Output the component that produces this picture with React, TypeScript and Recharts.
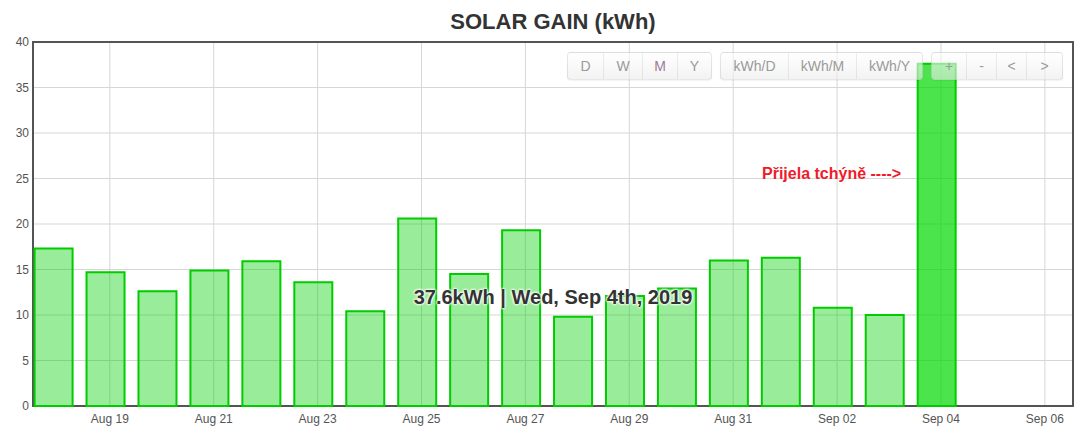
import React from "react";
import { BarChart, Bar, XAxis, YAxis, CartesianGrid, Cell, ReferenceArea } from "recharts";

// Daily solar gain (local midnight CEST, UTC+2)
const dates = [
  "2019-08-18", "2019-08-19", "2019-08-20", "2019-08-21", "2019-08-22", "2019-08-23",
  "2019-08-24", "2019-08-25", "2019-08-26", "2019-08-27", "2019-08-28", "2019-08-29",
  "2019-08-30", "2019-08-31", "2019-09-01", "2019-09-02", "2019-09-03", "2019-09-04",
];
const gainKWh = [
  17.3, 14.7, 12.6, 14.9, 15.9, 13.6,
  10.4, 20.6, 14.5, 19.3, 9.8, 12.1,
  12.9, 16.0, 16.3, 10.8, 10.0, 37.6,
];
const tickDates = [
  "2019-08-19", "2019-08-21", "2019-08-23", "2019-08-25", "2019-08-27",
  "2019-08-29", "2019-08-31", "2019-09-02", "2019-09-04", "2019-09-06",
];
const yTicks = [0, 5, 10, 15, 20, 25, 30, 35, 40];
const domainStart = "2019-08-17T12:30:00Z";
const domainEnd = "2019-09-06T13:00:00Z";
const highlightIndex = 17;
const annotationText = "Přijela tchýně ---->";
const periodButtons = ["D", "W", "M", "Y"];
const unitButtons = ["kWh/D", "kWh/M", "kWh/Y"];
const navButtons = ["+", "-", "<", ">"];

const MONTHS = ["Jan", "Feb", "Mar", "Apr", "May", "Jun", "Jul", "Aug", "Sep", "Oct", "Nov", "Dec"];
const WEEKDAYS = ["Sun", "Mon", "Tue", "Wed", "Thu", "Fri", "Sat"];

const data = dates.map((d, i) => ({ t: Date.parse(d + "T00:00:00+02:00"), v: gainKWh[i], d }));
const ticks = tickDates.map((d) => Date.parse(d + "T00:00:00Z"));
const xDomain = [Date.parse(domainStart), Date.parse(domainEnd)];

const fmtTick = (t: number) => {
  const dt = new Date(t);
  const day = dt.getUTCDate();
  return `${MONTHS[dt.getUTCMonth()]} ${day < 10 ? "0" + day : day}`;
};

const ordinal = (n: number) => {
  if (n % 10 === 1 && n !== 11) return n + "st";
  if (n % 10 === 2 && n !== 12) return n + "nd";
  if (n % 10 === 3 && n !== 13) return n + "rd";
  return n + "th";
};

const hl = data[highlightIndex];
const [hy, hm, hd] = hl.d.split("-").map(Number);
const hDate = new Date(Date.UTC(hy, hm - 1, hd));
const tooltipText = `${hl.v.toFixed(1)}kWh | ${WEEKDAYS[hDate.getUTCDay()]}, ${MONTHS[hm - 1]} ${ordinal(hd)}, ${hy}`;

const btnGroupStyle: React.CSSProperties = {
  position: "absolute",
  top: 44,
  height: 28,
  display: "flex",
  border: "1px solid rgba(0,0,0,0.09)",
  borderRadius: 4,
  background: "linear-gradient(rgba(255,255,255,0.6), rgba(235,235,235,0.6))",
  boxShadow: "0 1px 1px rgba(0,0,0,0.05)",
  boxSizing: "border-box",
};

const ButtonGroup = ({ labels, left, widths }: { labels: string[]; left: number; widths: number[] }) => (
  <div style={{ ...btnGroupStyle, left }}>
    {labels.map((l, i) => (
      <div
        key={l}
        style={{
          width: widths[i],
          lineHeight: "26px",
          textAlign: "center",
          fontSize: 14,
          color: l === "M" ? "#a07b96" : "#9a9a9a",
          borderLeft: i === 0 ? "none" : "1px solid rgba(0,0,0,0.07)",
          boxSizing: "border-box",
        }}
      >
        {l}
      </div>
    ))}
  </div>
);

export default function App() {
  return (
    <div style={{ position: "relative", width: 1072, height: 430, fontFamily: "'Liberation Sans', Arial, sans-serif" }}>
      <div
        style={{
          position: "absolute",
          left: 25,
          width: 1040,
          top: 2,
          lineHeight: "24px",
          textAlign: "center",
          fontSize: 22,
          fontWeight: "bold",
          color: "#333",
        }}
      >
        SOLAR GAIN (kWh)
      </div>
      <BarChart width={1072} height={430} data={data} margin={{ top: 34, right: 7, bottom: 2, left: 0 }}>
        <CartesianGrid stroke="#d6d6d6" />
        <XAxis
          dataKey="t"
          type="number"
          domain={xDomain}
          ticks={ticks}
          allowDataOverflow
          tickFormatter={fmtTick}
          axisLine={false}
          tickLine={false}
          tickSize={0}
          tickMargin={8}
          height={30}
          tick={{ fontSize: 12, fill: "#545454" }}
        />
        <YAxis
          domain={[0, 40]}
          ticks={yTicks}
          axisLine={false}
          tickLine={false}
          tickSize={0}
          tickMargin={4}
          width={25}
          tick={{ fontSize: 12, fill: "#545454" }}
        />
        <Bar dataKey="v" barSize={38} stroke="#00cc00" strokeWidth={2} isAnimationActive={false}>
          {data.map((_, i) => (
            <Cell
              key={i}
              fill={i === highlightIndex ? "#00d800" : "#00d000"}
              fillOpacity={i === highlightIndex ? 0.7 : 0.4}
            />
          ))}
        </Bar>
        <ReferenceArea
          x1={xDomain[0]}
          x2={xDomain[1]}
          y1={0}
          y2={40}
          fill="none"
          stroke="#545454"
          strokeWidth={2}
          ifOverflow="visible"
        />
      </BarChart>
      <ButtonGroup labels={periodButtons} left={559} widths={[35, 39, 35, 34]} />
      <ButtonGroup labels={unitButtons} left={712} widths={[67, 68, 66]} />
      <ButtonGroup labels={navButtons} left={923} widths={[34, 30, 30, 36]} />
      <div
        style={{
          position: "absolute",
          left: 754,
          top: 156,
          lineHeight: "20px",
          fontSize: 16,
          fontWeight: "bold",
          color: "#f01a2a",
          whiteSpace: "nowrap",
        }}
      >
        {annotationText}
      </div>
      <div
        style={{
          position: "absolute",
          left: 25,
          width: 1040,
          top: 277,
          lineHeight: "24px",
          textAlign: "center",
          fontSize: 20,
          fontWeight: "bold",
          color: "#333",
          whiteSpace: "nowrap",
          textShadow: "0 0 2px #fff, 0 0 2px #fff, 0 0 3px #fff, 0 0 3px #fff",
        }}
      >
        {tooltipText}
      </div>
    </div>
  );
}
